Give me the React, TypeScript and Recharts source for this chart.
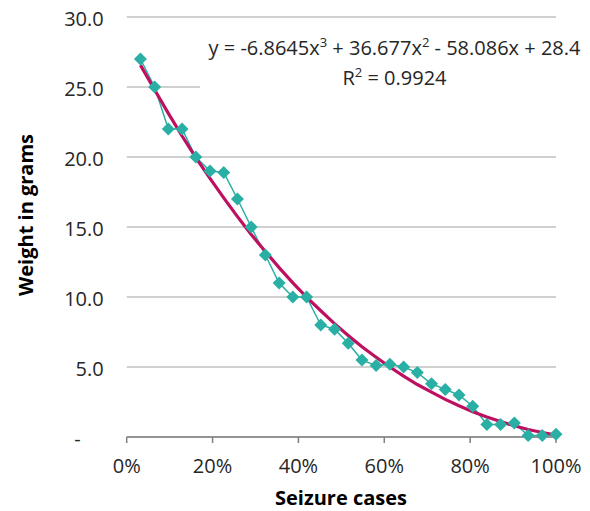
import React from "react";
import { ComposedChart, Line, XAxis, YAxis, CartesianGrid } from "recharts";

const casePct = [0.032, 0.065, 0.097, 0.129, 0.161, 0.194, 0.226, 0.258, 0.29, 0.323, 0.355, 0.387, 0.419, 0.452, 0.484, 0.516, 0.548, 0.581, 0.613, 0.645, 0.677, 0.71, 0.742, 0.774, 0.806, 0.839, 0.871, 0.903, 0.935, 0.968, 1.0];
const weights = [27, 25, 22, 22, 20, 19, 18.9, 17, 15, 13, 11, 10, 10, 8, 7.7, 6.7, 5.5, 5.1, 5.2, 5.0, 4.6, 3.8, 3.4, 3.0, 2.2, 0.9, 0.9, 1.0, 0.1, 0.1, 0.2];
const trend = [26.56, 24.8, 23.12, 21.5, 19.96, 18.48, 17.08, 15.74, 14.46, 13.25, 12.1, 11.01, 9.99, 9.02, 8.1, 7.25, 6.44, 5.7, 5.0, 4.35, 3.75, 3.2, 2.69, 2.23, 1.81, 1.43, 1.1, 0.8, 0.54, 0.32, 0.13];
const xTicks = [0, 0.2, 0.4, 0.6, 0.8, 1.0];
const yTicks = [0, 5, 10, 15, 20, 25, 30];

const data = casePct.map((x, i) => ({ x, weight: weights[i], trend: trend[i] }));

const FONT = "'Open Sans', 'Noto Sans', sans-serif";
const TEAL = "#2AAFA5";
const MAGENTA = "#BE1060";
const FS = 20;

const Diamond = (props: any) => {
  const { cx, cy } = props;
  if (cx == null || cy == null) return null;
  const r = 6.5;
  return <polygon points={`${cx},${cy - r} ${cx + r},${cy} ${cx},${cy + r} ${cx - r},${cy}`} fill={TEAL} stroke="none" />;
};

const YTick = (props: any) => {
  const { x, y, payload } = props;
  const v = payload.value;
  return (
    <text x={v === 0 ? x - 23 : x} y={y} dy={8.5} textAnchor="end" fontFamily={FONT} fontSize={FS} fill="#262626">
      {v === 0 ? "-" : v.toFixed(1)}
    </text>
  );
};

export default function App() {
  return (
    <div style={{ position: "relative", width: 590, height: 511, background: "#fff" }}>
      <style>{`body{margin:0}`}</style>
      <ComposedChart width={590} height={511} data={data} margin={{ top: 17, right: 34, bottom: 0, left: 0 }}>
        <CartesianGrid vertical={false} stroke="#C0C0C0" strokeWidth={1.5} />
        <XAxis
          type="number"
          dataKey="x"
          domain={[0, 1]}
          ticks={xTicks}
          tickFormatter={(v: number) => `${Math.round(v * 100)}%`}
          height={74}
          axisLine={{ stroke: "#808080", strokeWidth: 1.5 }}
          tickLine={{ stroke: "#808080", strokeWidth: 1.5 }}
          tickSize={6}
          tickMargin={16}
          tick={{ fontFamily: FONT, fontSize: FS, fill: "#262626" }}
        />
        <YAxis
          type="number"
          domain={[0, 30]}
          ticks={yTicks}
          width={126.7}
          axisLine={false}
          tickLine={false}
          tickSize={0}
          tickMargin={23}
          tick={<YTick />}
        />
        <Line type="linear" dataKey="weight" stroke={TEAL} strokeWidth={1.5} dot={<Diamond />} isAnimationActive={false} />
        <Line type="linear" dataKey="trend" stroke={MAGENTA} strokeWidth={3.2} dot={false} isAnimationActive={false} />
      </ComposedChart>
      <svg width={590} height={511} style={{ position: "absolute", left: 0, top: 0, pointerEvents: "none" }}>
        <rect x={200} y={30} width={390} height={62} fill="#fff" />
        <text x={394.5} y={55} textAnchor="middle" fontFamily={FONT} fontSize={FS} fill="#262626">
          y = -6.8645x<tspan dy={-8} fontSize={13}>3</tspan>
          <tspan dy={8}> + 36.677x</tspan><tspan dy={-8} fontSize={13}>2</tspan>
          <tspan dy={8}> - 58.086x + 28.4</tspan>
        </text>
        <text x={394.5} y={85} textAnchor="middle" fontFamily={FONT} fontSize={FS} fill="#262626">
          R<tspan dy={-8} fontSize={13}>2</tspan><tspan dy={8}> = 0.9924</tspan>
        </text>
        <text x={341} y={505} textAnchor="middle" fontFamily={FONT} fontSize={FS} fontWeight="bold" fill="#000">
          Seizure cases
        </text>
        <text x={33} y={215} textAnchor="middle" fontFamily={FONT} fontSize={FS} fontWeight="bold" fill="#000" transform="rotate(-90 33 215)">
          Weight in grams
        </text>
      </svg>
    </div>
  );
}
